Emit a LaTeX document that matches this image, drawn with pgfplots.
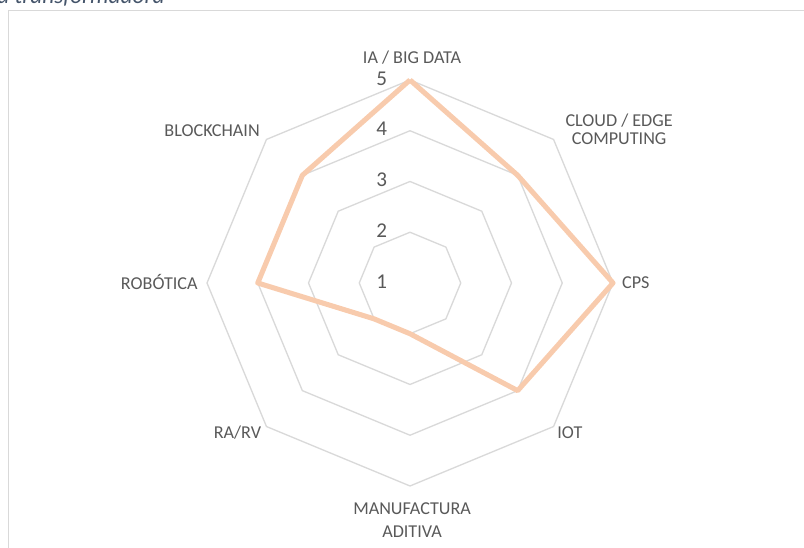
\documentclass[border=0pt]{standalone}
\usepackage{pgfplots}
\pgfplotsset{compat=1.18}
\usepackage{pgfplotstable}
\usepackage{fontspec}
\setmainfont{Carlito}
\definecolor{gridc}{HTML}{D9D9D9}
\definecolor{txt}{HTML}{595959}
\definecolor{serie}{HTML}{F8CBAD}
\definecolor{titlec}{HTML}{44546A}

\pgfplotstableread{
a v
90 5
45 4
0 5
-45 4
-90 2
-135 2
180 4
135 4
90 5
}\madurez

\begin{document}
\begin{tikzpicture}[x=0.75pt,y=0.75pt]
\useasboundingbox (0,0) rectangle (804,548);
\begin{scope}
\clip (0,0) rectangle (804,548);
\draw[gridc, line width=1pt] (8.5,537.5) rectangle (830,-30);
\node[anchor=base west, font=\fontsize{17.5}{20}\selectfont\itshape, text=titlec, inner sep=0pt] at (-3,544.7) {a transformadora};
\end{scope}
\begin{axis}[at={(0,0)}, anchor=south west, x=38.0625pt, y=38.0625pt,
  xmin=-8.0788, xmax=7.7635, ymin=-5.2217, ymax=5.5764,
  hide axis, clip=false, enlargelimits=false]
\pgfplotsinvokeforeach{1,2,3,4}{
 \addplot[gridc, line width=1pt, no marks] table[x expr={#1*cos(\thisrow{a})}, y expr={#1*sin(\thisrow{a})}] {\madurez};
}
\addplot[serie, line width=3.8pt, no marks, line join=round] table[x expr={(\thisrow{v}-1)*cos(\thisrow{a})}, y expr={(\thisrow{v}-1)*sin(\thisrow{a})}] {\madurez};
\begin{scope}[every node/.style={text=txt, font=\fontsize{13.6}{13.9}\selectfont, inner sep=0pt}]
\node at (axis cs:0.04,4.45) {IA / BIG DATA};
\node[align=center] at (axis cs:4.12,3.03) {CLOUD / EDGE\\COMPUTING};
\node at (axis cs:4.45,0) {CPS};
\node at (axis cs:3.15,-2.94) {IOT};
\node[align=center, font=\fontsize{13.6}{17.5}\selectfont] at (axis cs:0.04,-4.67) {MANUFACTURA\\ADITIVA};
\node at (axis cs:-3.40,-2.94) {RA/RV};
\node[anchor=east] at (axis cs:-4.18,0.02) {ROBÓTICA};
\node[anchor=east] at (axis cs:-2.956,3.0) {BLOCKCHAIN};
\end{scope}
\begin{scope}[every node/.style={text=txt, font=\fontsize{15.8}{18}\selectfont, inner sep=0pt}]
\node at (axis cs:-0.56,0.03) {1};
\node at (axis cs:-0.56,1.03) {2};
\node at (axis cs:-0.56,2.03) {3};
\node at (axis cs:-0.56,3.03) {4};
\node at (axis cs:-0.56,4.03) {5};
\end{scope}
\end{axis}
\end{tikzpicture}
\end{document}
